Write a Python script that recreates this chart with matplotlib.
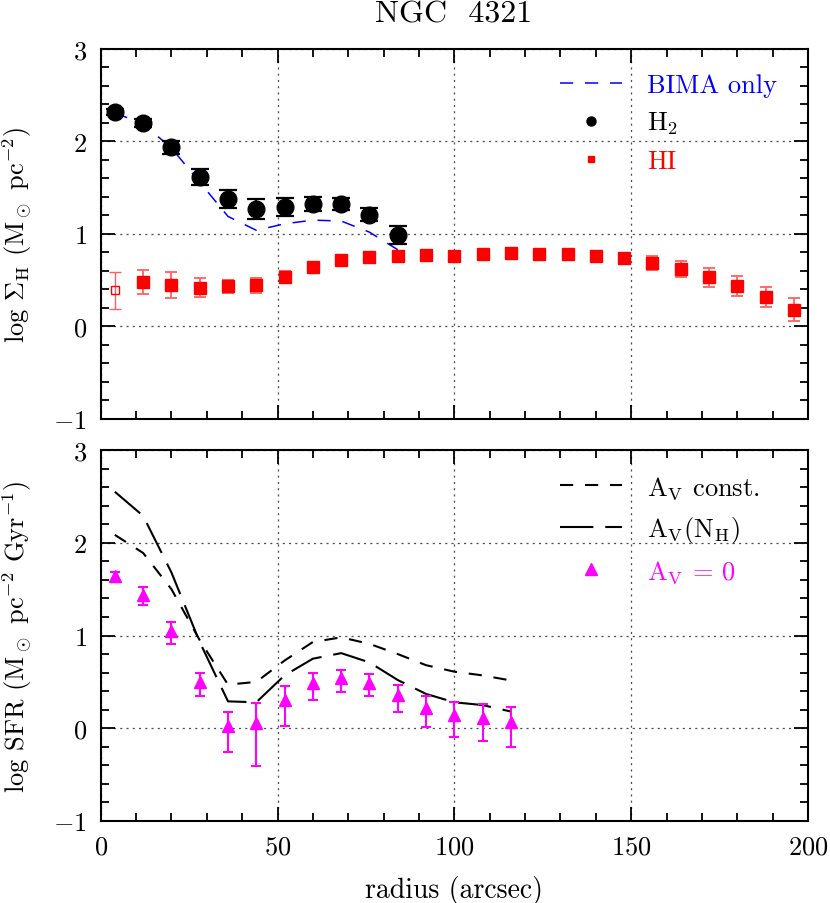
import matplotlib
matplotlib.use("Agg")
import matplotlib.pyplot as plt
from matplotlib.lines import Line2D
from matplotlib.ticker import MultipleLocator

plt.rcParams['font.family'] = 'cmr10'
plt.rcParams['mathtext.fontset'] = 'cm'
plt.rcParams['axes.formatter.use_mathtext'] = True
plt.rcParams['lines.scale_dashes'] = False

# radii (arcsec)
r_h2 = [4, 12, 20, 28, 36, 44, 52, 60, 68, 76, 84]
r_hi = [4, 12, 20, 28, 36, 44, 52, 60, 68, 76, 84, 92, 100, 108, 116, 124,
        132, 140, 148, 156, 164, 172, 180, 188, 196]
r_sfr = [4, 12, 20, 28, 36, 44, 52, 60, 68, 76, 84, 92, 100, 108, 116]

# top panel: gas surface densities
h2 = [2.32, 2.20, 1.94, 1.62, 1.38, 1.27, 1.29, 1.32, 1.32, 1.21, 0.99]
h2_err = [0.03, 0.04, 0.07, 0.085, 0.095, 0.105, 0.095, 0.075, 0.065, 0.07, 0.10]
bima = [2.31, 2.19, 1.93, 1.56, 1.19, 1.04, 1.11, 1.15, 1.14, 1.02, 0.83]
hi = [0.39, 0.48, 0.45, 0.42, 0.435, 0.445, 0.53, 0.64, 0.715, 0.75, 0.76,
      0.77, 0.765, 0.78, 0.79, 0.785, 0.78, 0.765, 0.74, 0.685, 0.62, 0.53,
      0.44, 0.32, 0.18]
hi_err = [0.20, 0.13, 0.14, 0.10, 0.07, 0.08, 0.065, 0.035, 0.04, 0.04, 0.045,
          0.04, 0.04, 0.04, 0.04, 0.04, 0.04, 0.04, 0.04, 0.075, 0.09, 0.10,
          0.11, 0.11, 0.125]

# bottom panel: star formation rate
sfr_av0 = [1.64, 1.44, 1.05, 0.50, 0.02, 0.06, 0.31, 0.49, 0.54, 0.49, 0.36,
           0.22, 0.145, 0.11, 0.07]
sfr_err_lo = [0.065, 0.108, 0.144, 0.15, 0.28, 0.47, 0.29, 0.18, 0.147, 0.147,
              0.18, 0.21, 0.237, 0.248, 0.277]
sfr_err_hi = [0.05, 0.083, 0.10, 0.10, 0.155, 0.21, 0.15, 0.11, 0.09, 0.09,
              0.108, 0.126, 0.136, 0.147, 0.154]
sfr_const = [2.085, 1.89, 1.50, 0.95, 0.47, 0.50, 0.73, 0.93, 0.98, 0.91, 0.80,
             0.68, 0.61, 0.57, 0.515]
sfr_nh = [2.55, 2.29, 1.68, 0.93, 0.29, 0.28, 0.57, 0.75, 0.81, 0.71, 0.52,
          0.37, 0.28, 0.25, 0.18]

RED = '#ff0000'
MAG = '#ff00ff'
BLUE = '#0000ff'
FS = 19

fig = plt.figure(figsize=(8.3, 9.04), dpi=100)
ax1 = fig.add_axes([0.1213, 0.5354, 0.8522, 0.4093])
ax2 = fig.add_axes([0.1213, 0.0907, 0.8522, 0.4104])

for ax in (ax1, ax2):
    ax.set_xlim(0, 200)
    ax.set_ylim(-1, 3)
    ax.xaxis.set_major_locator(MultipleLocator(50))
    ax.xaxis.set_minor_locator(MultipleLocator(10))
    ax.yaxis.set_major_locator(MultipleLocator(1))
    ax.yaxis.set_minor_locator(MultipleLocator(0.2))
    ax.tick_params(which='both', direction='in', top=True, right=True,
                   width=1.3, labelsize=FS)
    ax.tick_params(which='major', length=10, pad=10)
    ax.tick_params(which='minor', length=6)
    for s in ax.spines.values():
        s.set_linewidth(1.5)
    ax.grid(True, which='major', color='0.3', linestyle=(0, (1.5, 3)), linewidth=0.9)
    ax.set_axisbelow(True)

ax1.tick_params(labelbottom=False)

# top panel
ax1.plot(r_h2, bima, color=BLUE, lw=1.1, dashes=(9.5, 8.5), zorder=3)
ax1.errorbar(r_h2, h2, yerr=h2_err, fmt='o', color='black', ms=12,
             elinewidth=1.6, capsize=6.5, capthick=1.6, zorder=4)
ax1.errorbar(r_hi[1:], hi[1:], yerr=hi_err[1:], fmt='s', color=RED, ms=8,
             ecolor='#ff6060', elinewidth=1.3, capsize=4.5, capthick=1.3, zorder=4)
ax1.errorbar(r_hi[:1], hi[:1], yerr=hi_err[:1], fmt='s', color=RED, ms=6,
             mfc='none', mew=1.0, ecolor='#ff6060', elinewidth=1.0,
             capsize=4.5, capthick=1.0, zorder=4)
ax1.set_ylabel(r'log $\Sigma_{\rm H}$ (M$_\odot$ pc$^{-2}$)', fontsize=FS, labelpad=14)

h_top = [Line2D([], [], color=BLUE, lw=1.1, dashes=(9.5, 8.5)),
         Line2D([], [], color='black', marker='o', ms=6.5, ls='none'),
         Line2D([], [], color=RED, marker='s', ms=4.5, ls='none')]
ax1.legend(h_top, ['BIMA only', r'H$_2$', 'HI'], loc='upper left',
           bbox_to_anchor=(0.649, 0.935), frameon=False, fontsize=FS,
           handlelength=2.35, handletextpad=0.95, labelspacing=0.5,
           borderpad=0, borderaxespad=0, labelcolor=[BLUE, 'black', RED])

# bottom panel
ax2.plot(r_sfr, sfr_const, color='black', lw=1.5, dashes=(9.5, 8.5), zorder=3)
ax2.plot(r_sfr, sfr_nh, color='black', lw=1.5, dashes=(24, 8.6), zorder=3)
ax2.errorbar(r_sfr, sfr_av0, yerr=[sfr_err_lo, sfr_err_hi], fmt='^', color=MAG,
             ms=8, elinewidth=1.5, capsize=3.8, capthick=1.5, zorder=4)
ax2.set_ylabel(r'log SFR (M$_\odot$ pc$^{-2}$ Gyr$^{-1}$)', fontsize=FS, labelpad=14)
ax2.set_xlabel('radius (arcsec)', fontsize=FS + 1, labelpad=12)

h_bot = [Line2D([], [], color='black', lw=1.5, dashes=(9.5, 8.5)),
         Line2D([], [], color='black', lw=1.5, dashes=(24, 8.6)),
         Line2D([], [], color=MAG, marker='^', ms=8, ls='none')]
ax2.legend(h_bot, [r'A$_{\rm V}$ const.', r'A$_{\rm V}$(N$_{\rm H}$)', r'A$_{\rm V}$ = 0'],
           loc='upper left', bbox_to_anchor=(0.649, 0.935), frameon=False,
           fontsize=FS, handlelength=2.35, handletextpad=0.95, labelspacing=0.5,
           borderpad=0, borderaxespad=0, labelcolor=['black', 'black', MAG])

fig.text(0.546, 0.984, 'NGC  4321', fontsize=23, ha='center', va='center')

fig.savefig('out.png', dpi=100)
